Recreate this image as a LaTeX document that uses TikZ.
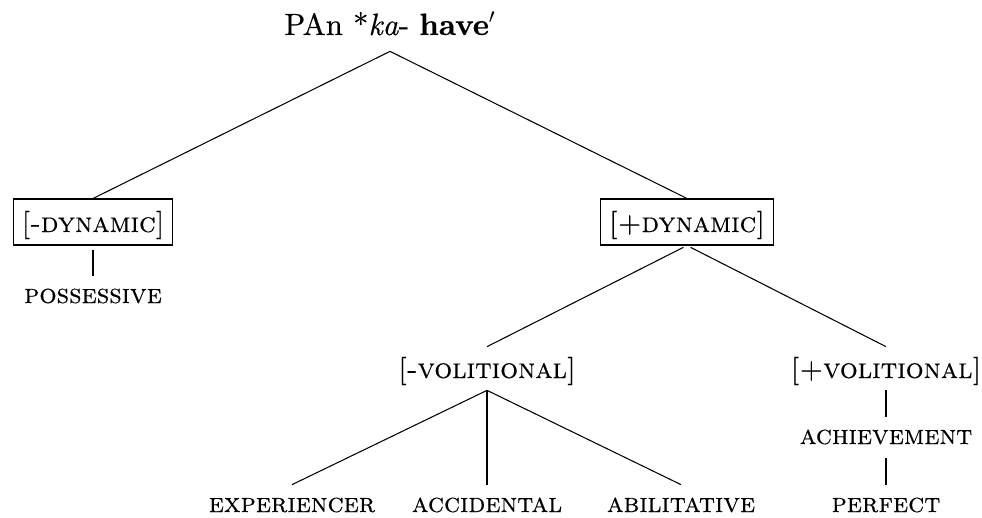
\documentclass[tikz,border=0pt]{standalone}
\usepackage{fontspec}
\setmainfont{lmroman10-regular.otf}[
  FakeBold=0.35,
  BoldFont=lmroman10-bold.otf,
  ItalicFont=lmroman10-italic.otf,
  SmallCapsFont=lmromancaps10-regular.otf,
  SmallCapsFeatures={FakeBold=0.35}]
\begin{document}
\begin{tikzpicture}[x=0.02cm,y=-0.02cm,
  edge/.style={line width=0.6pt},
  root/.style={font=\fontsize{17.5}{20}\selectfont, inner sep=0pt, anchor=base,
    text height=0.4cm, text depth=0.32cm},
  feat/.style={font=\fontsize{16}{19}\selectfont\scshape, inner ysep=0pt,
    inner xsep=0.16cm, anchor=base, text height=0.62cm, text depth=0.24cm},
  fbox/.style={feat, draw, line width=0.6pt, text height=0.66cm, text depth=0.26cm},
  leaf/.style={font=\fontsize{15.5}{18}\selectfont\scshape, inner sep=0pt,
    anchor=base, text height=0.54cm, text depth=0.28cm},
  gap/.style={shorten <=0.08cm},
]
\useasboundingbox (0,0) rectangle (982,517);

% nodes
\node[root] (r)   at (390,35)  {PAn *\textit{ka}- \textbf{have}$'$};
\node[fbox] (dm)  at (93,232)  {[-dynamic]};
\node[fbox] (dp)  at (687,232) {[+dynamic]};
\node[leaf] (pos) at (93,303)  {possessive};
\node[feat] (vm)  at (487,378) {[-volitional]};
\node[feat] (vp)  at (886,378) {[+volitional]};
\node[leaf] (exp) at (292,512) {experiencer};
\node[leaf] (acc) at (487,512) {accidental};
\node[leaf] (abi) at (681,512) {abilitative};
\node[leaf] (ach) at (886,444) {achievement};
\node[leaf] (per) at (886,512) {perfect};

% branches
\draw[edge] (r.south) -- (dm.north);
\draw[edge] (r.south) -- (dp.north);
\draw[edge,gap] (dm.south) -- (pos.north);
\draw[edge,gap] (dp.south) -- (vm.north);
\draw[edge,gap] (dp.south) -- (vp.north);
\draw[edge] (vm.south) -- (exp.north);
\draw[edge] (vm.south) -- (acc.north);
\draw[edge] (vm.south) -- (abi.north);
\draw[edge] (vp.south) -- (ach.north);
\draw[edge] (ach.south) -- (per.north);
\end{tikzpicture}
\end{document}
